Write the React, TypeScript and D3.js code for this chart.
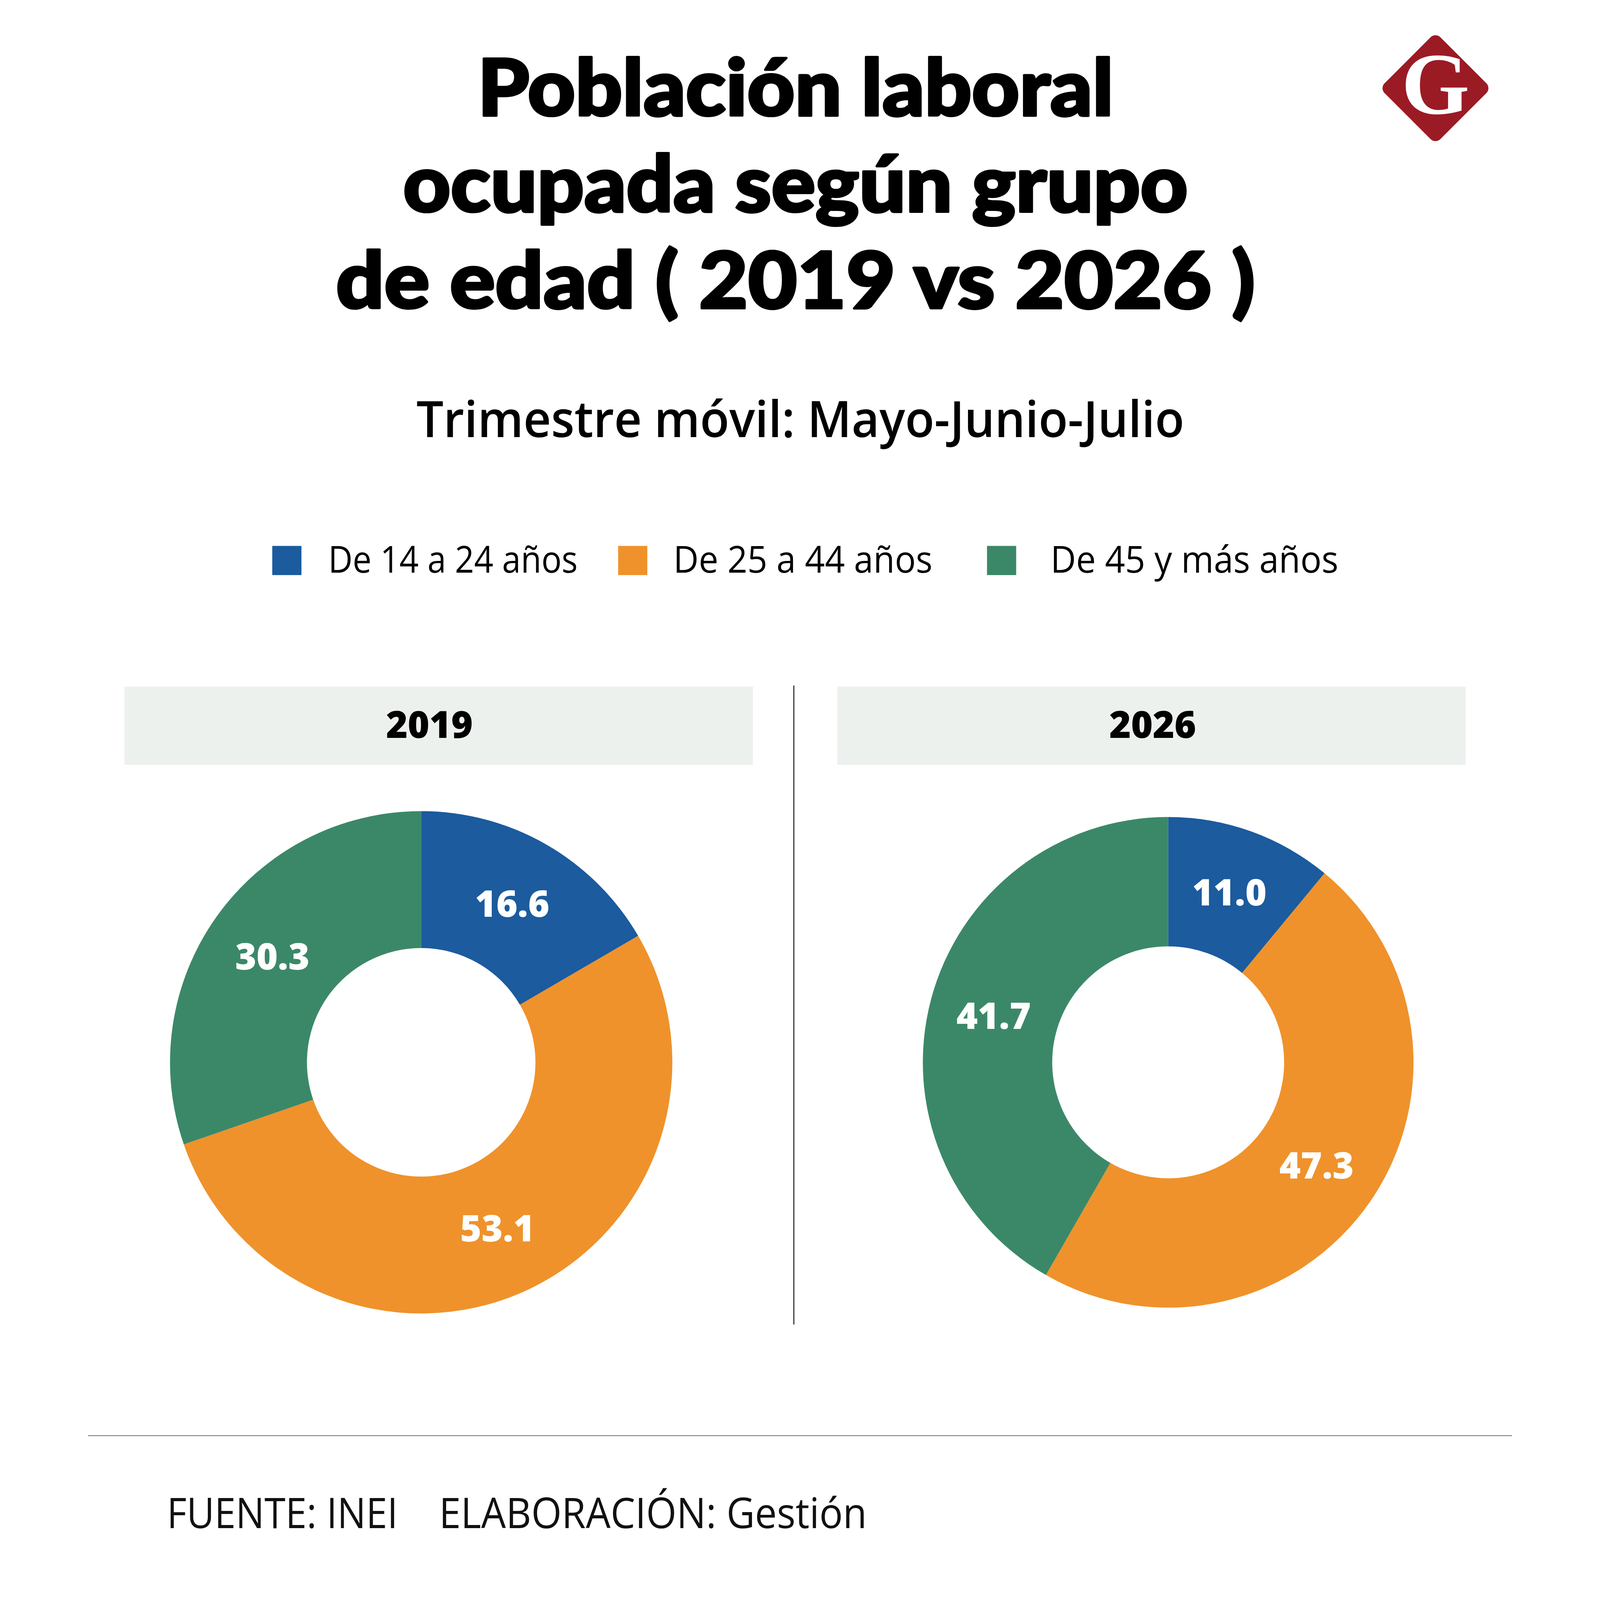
import React, { useEffect } from 'react';
import * as d3 from 'd3';

// ---- data ----
const categories = ['De 14 a 24 años', 'De 25 a 44 años', 'De 45 y más años'];
const years = ['2019', '2026'];
const values2019 = [16.6, 53.1, 30.3];
const values2026 = [11.0, 47.3, 41.7];
const seriesColors = ['#1b5b9e', '#ef922b', '#3b8868'];
const titleLines = ['Población laboral', 'ocupada según grupo', 'de edad ( 2019 vs 2026 )'];
const subtitleText = 'Trimestre móvil: Mayo-Junio-Julio';
const sourceText = 'FUENTE: INEI';
const creditText = 'ELABORACIÓN: Gestión';

// ---- layout (positions / sizes / styles) ----
const W = 4150;
const H = 4663;
const FONT = "'Open Sans', 'Noto Sans', sans-serif";
const TITLE_FONT = "Lato, 'Open Sans', sans-serif";
const title = { x: 2062, baselines: [337, 617, 898], widths: [1853, 2287, 2679], size: 228 };
const sub = { x: 2076, y: 1274, width: 2238, size: 147 };
const legend = {
  squareX: [537, 1545, 2620],
  textX: [700, 1706, 2805],
  textW: [727, 755, 839],
  squareY: 1591,
  square: 85,
  baseline: 1669,
  size: 108,
};
const panels = [
  { box: [106, 2001, 1832, 228], labelX: 995, cx: 971, cy: 3096, r: 732, ri: 333 },
  { box: [2184, 2001, 1831, 228], labelX: 3103, cx: 3148, cy: 3096, r: 715, ri: 338 },
];
const seriesByYear = [values2019, values2026];

export default function App() {
  useEffect(() => {
    document.body.style.margin = '0';
    document.documentElement.style.overflow = 'hidden';
    document.body.style.overflow = 'hidden';
  }, []);

  const pie = d3.pie<number>().sort(null).value((d) => d).startAngle(0).endAngle(2 * Math.PI);
  const fmt = d3.format('.1f');

  return (
    <svg
      viewBox={`0 0 ${W} ${H}`}
      preserveAspectRatio="xMidYMid meet"
      style={{ display: 'block', width: '100vw', height: '100vh', background: '#fff' }}
    >
      <rect x={0} y={0} width={W} height={H} fill="#ffffff" />

      {/* Title */}
      {titleLines.map((line, i) => (
        <text
          key={i}
          x={title.x}
          y={title.baselines[i]}
          textAnchor="middle"
          fontFamily={TITLE_FONT}
          fontWeight={900}
          fontSize={title.size}
          textLength={title.widths[i]}
          lengthAdjust="spacingAndGlyphs"
          fill="#000"
          stroke="#000"
          strokeWidth={7}
          strokeLinejoin="round"
        >
          {line}
        </text>
      ))}

      {/* Logo */}
      <g transform="translate(3927,257)">
        <rect x={-115} y={-115} width={230} height={230} rx={20} ry={20} transform="rotate(45)" fill="#9b1b25" />
        <text
          x={0}
          y={74}
          textAnchor="middle"
          fontFamily="'Liberation Serif', 'DejaVu Serif', serif"
          fontWeight={700}
          fontSize={255}
          fill="#ffffff"
        >
          G
        </text>
      </g>

      {/* Subtitle */}
      <text
        x={sub.x}
        y={sub.y}
        textAnchor="middle"
        fontFamily={FONT}
        fontWeight={600}
        fontSize={sub.size}
        textLength={sub.width}
        lengthAdjust="spacingAndGlyphs"
        fill="#000"
      >
        {subtitleText}
      </text>

      {/* Legend */}
      {categories.map((c, i) => (
        <g key={c}>
          <rect x={legend.squareX[i]} y={legend.squareY} width={legend.square} height={legend.square} fill={seriesColors[i]} />
          <text
            x={legend.textX[i]}
            y={legend.baseline}
            fontFamily={FONT}
            fontWeight={400}
            fontSize={legend.size}
            textLength={legend.textW[i]}
            lengthAdjust="spacingAndGlyphs"
            fill="#000"
          >
            {c}
          </text>
        </g>
      ))}

      {/* Divider */}
      <line x1={2057} x2={2057} y1={1998} y2={3860} stroke="#222" strokeWidth={3} />

      {/* Panels */}
      {panels.map((p, pi) => {
        const arcs = pie(seriesByYear[pi]);
        const arcGen = d3.arc<d3.PieArcDatum<number>>().innerRadius(p.ri).outerRadius(p.r);
        const labelR = (p.r + p.ri) / 2;
        const labelArc = d3.arc<d3.PieArcDatum<number>>().innerRadius(labelR).outerRadius(labelR);
        return (
          <g key={years[pi]}>
            <rect x={p.box[0]} y={p.box[1]} width={p.box[2]} height={p.box[3]} fill="#edf1ee" />
            <text
              x={p.labelX}
              y={2151}
              textAnchor="middle"
              fontFamily={FONT}
              fontWeight={800}
              fontSize={108}
              fill="#000"
            >
              {years[pi]}
            </text>
            <g transform={`translate(${p.cx},${p.cy})`}>
              {arcs.map((a, i) => (
                <path key={i} d={arcGen(a) || ''} fill={seriesColors[i]} />
              ))}
              {arcs.map((a, i) => {
                const [lx, ly] = labelArc.centroid(a);
                return (
                  <text
                    key={'l' + i}
                    x={lx}
                    y={ly}
                    dy="0.36em"
                    textAnchor="middle"
                    fontFamily={FONT}
                    fontWeight={800}
                    fontSize={106}
                    fill="#ffffff"
                  >
                    {fmt(a.data)}
                  </text>
                );
              })}
            </g>
          </g>
        );
      })}

      {/* Footer */}
      <line x1={0} x2={W} y1={4184} y2={4184} stroke="#8a8a8a" strokeWidth={3} />
      <text x={230} y={4454} fontFamily={FONT} fontWeight={400} fontSize={122} textLength={673} lengthAdjust="spacingAndGlyphs" fill="#111">
        {sourceText}
      </text>
      <text x={1023} y={4454} fontFamily={FONT} fontWeight={400} fontSize={122} textLength={1247} lengthAdjust="spacingAndGlyphs" fill="#111">
        {creditText}
      </text>
    </svg>
  );
}
